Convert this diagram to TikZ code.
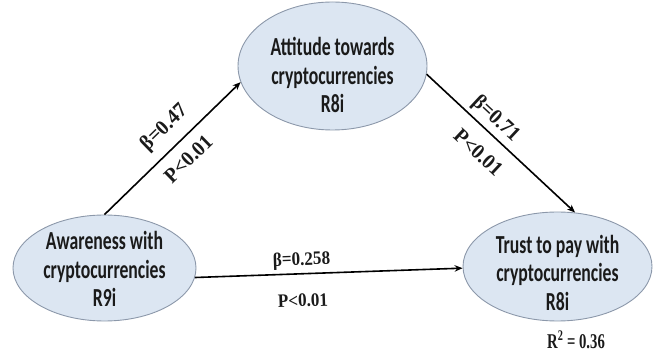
\documentclass[tikz,border=0pt]{standalone}
\usepackage{fontspec}
\newfontfamily\ellfont[FakeStretch=0.68]{Carlito}
\newfontfamily\labfont[FakeStretch=0.9]{Liberation Serif}
\newfontfamily\rlabfont[FakeStretch=0.95]{Liberation Serif}
\newfontfamily\rfont[FakeStretch=0.7]{Liberation Serif}
\usetikzlibrary{shapes.geometric,arrows.meta}
\definecolor{ellfill}{HTML}{DCE6F2}
\definecolor{elldraw}{HTML}{8C98AA}
\definecolor{txt}{HTML}{1A1A1A}
\begin{document}
\begin{tikzpicture}[x=1pt,y=-1pt,
  construct/.style={ellipse, draw=elldraw, line width=0.9pt, fill=ellfill, inner sep=0pt},
  ctext/.style={align=center, text=txt, inner sep=0pt, font={\ellfont\bfseries\fontsize{26}{28.5}\selectfont}},
  pathline/.style={line width=1.6pt, draw=black, -{Stealth[length=8pt,width=6.5pt]}},
  coef/.style={font={\labfont\bfseries\fontsize{19}{21}\selectfont}, text=txt, sloped, inner sep=0pt},
  rcoef/.style={font={\rlabfont\bfseries\fontsize{21}{23}\selectfont}, text=txt, sloped, inner sep=0pt},
  rsq/.style={font={\rfont\bfseries\fontsize{21}{24}\selectfont}, text=txt, inner sep=0pt}
]
\useasboundingbox (0,0) rectangle (653,352);
\node[construct, minimum width=189pt, minimum height=128pt,
  label={[ctext, yshift=-9pt]center:Attitude towards\\cryptocurrencies\\R8i}] (att) at (332.5,66) {};
\node[construct, minimum width=183pt, minimum height=106pt,
  label={[ctext, yshift=-1pt]center:Awareness with\\cryptocurrencies\\R9i}] (aw) at (104.5,268) {};
\node[construct, minimum width=189pt, minimum height=109pt,
  label={[ctext, yshift=-6pt]center:Trust to pay with\\cryptocurrencies\\R8i}] (tr) at (557.5,266.5) {};
\node[rsq] (r2) at (576,340) {R\textsuperscript{2} = 0.36};

\draw[pathline] (aw.north) -- (att.190)
  node[rcoef, above=10pt, pos=0.545] (b1) {β=0.47}
  node[rcoef, below=10.7pt, pos=0.52] (p1) {P<0.01};
\draw[pathline] (att.355) -- (tr.72)
  node[rcoef, above=3.7pt, pos=0.40] (b2) {β=0.71}
  node[rcoef, below=14.2pt, pos=0.45] (p2) {P<0.01};
\draw[pathline] (aw.354) -- (tr.181)
  node[coef, above=3.7pt, pos=0.40] (b3) {β=0.258}
  node[coef, below=19.4pt, pos=0.40] (p3) {P<0.01};
\end{tikzpicture}
\end{document}
